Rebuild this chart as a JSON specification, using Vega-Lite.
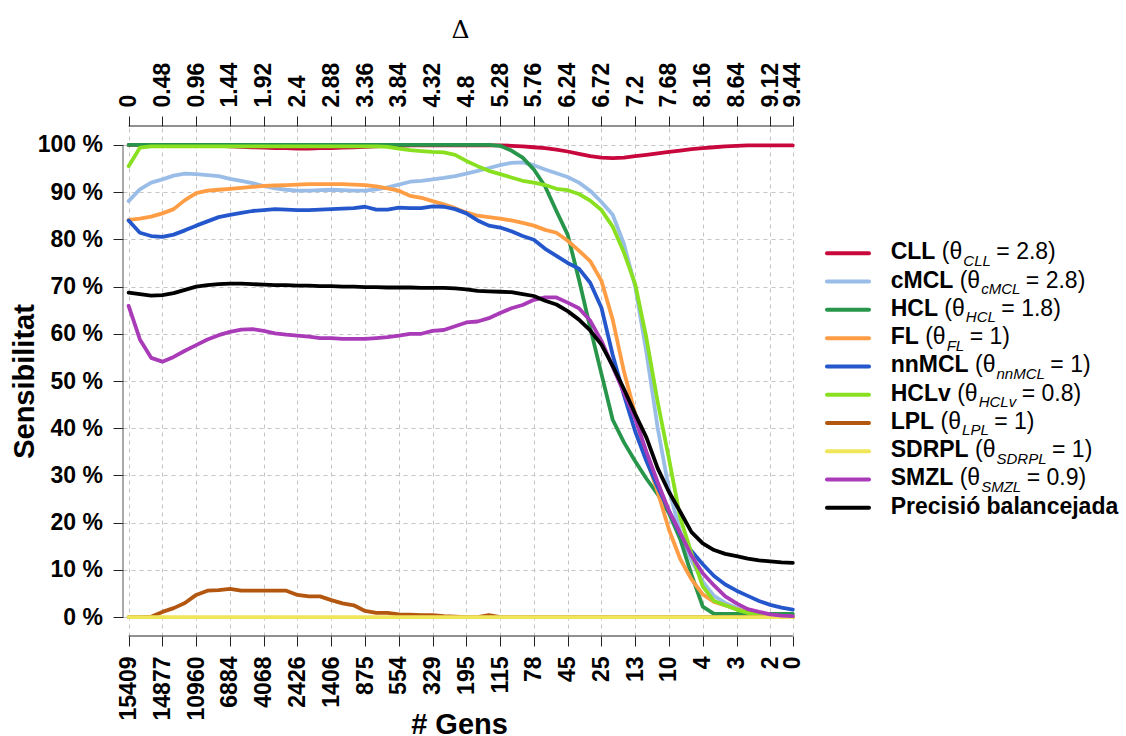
{
  "$schema": "https://vega.github.io/schema/vega-lite/v6.json",
  "width": 672,
  "height": 510,
  "autosize": {"type": "none"},
  "padding": {"left": 123, "top": 126, "right": 331, "bottom": 100},
  "background": "white",
  "config": {
    "view": {"stroke": null},
    "font": "Liberation Sans",
    "axis": {
      "labelFont": "Liberation Sans",
      "labelFontWeight": "bold",
      "labelFontSize": 23,
      "labelColor": "#000000",
      "labelOverlap": false,
      "labelFlush": false,
      "labelBound": false,
      "titleFont": "Liberation Sans",
      "titleFontWeight": "bold",
      "titleFontSize": 29,
      "titleColor": "#000000",
      "tickSize": 10,
      "tickColor": "#222222",
      "tickWidth": 1,
      "domain": false,
      "gridColor": "#c4c4c4",
      "gridDash": [4, 4],
      "gridWidth": 1
    }
  },
  "datasets": {
    "curves": [
      {"d": 0, "CLL": 100, "cMCL": 88.1, "HCL": 100, "FL": 84.1, "nnMCL": 84.0, "HCLv": 95.5, "LPL": 0, "SDRPL": 0, "SMZL": 65.9, "Precisió balancejada": 68.7},
      {"d": 0.16, "CLL": 100, "cMCL": 90.6, "HCL": 100, "FL": 84.4, "nnMCL": 81.4, "HCLv": 99.4, "LPL": 0, "SDRPL": 0, "SMZL": 58.8, "Precisió balancejada": 68.4},
      {"d": 0.32, "CLL": 100, "cMCL": 92.0, "HCL": 100, "FL": 84.8, "nnMCL": 80.7, "HCLv": 99.7, "LPL": 0.1, "SDRPL": 0, "SMZL": 54.9, "Precisió balancejada": 68.1},
      {"d": 0.48, "CLL": 100, "cMCL": 92.7, "HCL": 100, "FL": 85.5, "nnMCL": 80.5, "HCLv": 99.7, "LPL": 1.1, "SDRPL": 0, "SMZL": 54.1, "Precisió balancejada": 68.2},
      {"d": 0.64, "CLL": 100, "cMCL": 93.5, "HCL": 100, "FL": 86.4, "nnMCL": 81.0, "HCLv": 99.7, "LPL": 1.9, "SDRPL": 0, "SMZL": 55.1, "Precisió balancejada": 68.6},
      {"d": 0.8, "CLL": 99.9, "cMCL": 93.9, "HCL": 100, "FL": 88.3, "nnMCL": 81.9, "HCLv": 99.7, "LPL": 3.0, "SDRPL": 0, "SMZL": 56.4, "Precisió balancejada": 69.3},
      {"d": 0.96, "CLL": 99.9, "cMCL": 93.8, "HCL": 100, "FL": 89.8, "nnMCL": 82.9, "HCLv": 99.7, "LPL": 4.7, "SDRPL": 0, "SMZL": 57.6, "Precisió balancejada": 70.0},
      {"d": 1.12, "CLL": 99.9, "cMCL": 93.6, "HCL": 100, "FL": 90.3, "nnMCL": 83.8, "HCLv": 99.7, "LPL": 5.6, "SDRPL": 0, "SMZL": 58.8, "Precisió balancejada": 70.3},
      {"d": 1.28, "CLL": 99.8, "cMCL": 93.4, "HCL": 100, "FL": 90.5, "nnMCL": 84.7, "HCLv": 99.7, "LPL": 5.7, "SDRPL": 0, "SMZL": 59.7, "Precisió balancejada": 70.5},
      {"d": 1.44, "CLL": 99.7, "cMCL": 92.8, "HCL": 100, "FL": 90.7, "nnMCL": 85.2, "HCLv": 99.7, "LPL": 6.0, "SDRPL": 0, "SMZL": 60.4, "Precisió balancejada": 70.6},
      {"d": 1.6, "CLL": 99.6, "cMCL": 92.4, "HCL": 100, "FL": 90.9, "nnMCL": 85.6, "HCLv": 99.7, "LPL": 5.6, "SDRPL": 0, "SMZL": 60.9, "Precisió balancejada": 70.6},
      {"d": 1.76, "CLL": 99.5, "cMCL": 91.9, "HCL": 100, "FL": 91.1, "nnMCL": 86.0, "HCLv": 99.7, "LPL": 5.6, "SDRPL": 0, "SMZL": 61.0, "Precisió balancejada": 70.5},
      {"d": 1.92, "CLL": 99.4, "cMCL": 91.3, "HCL": 100, "FL": 91.3, "nnMCL": 86.2, "HCLv": 99.7, "LPL": 5.6, "SDRPL": 0, "SMZL": 60.6, "Precisió balancejada": 70.4},
      {"d": 2.08, "CLL": 99.3, "cMCL": 90.8, "HCL": 100, "FL": 91.4, "nnMCL": 86.4, "HCLv": 99.7, "LPL": 5.6, "SDRPL": 0, "SMZL": 60.1, "Precisió balancejada": 70.3},
      {"d": 2.24, "CLL": 99.3, "cMCL": 90.5, "HCL": 100, "FL": 91.5, "nnMCL": 86.3, "HCLv": 99.7, "LPL": 5.6, "SDRPL": 0, "SMZL": 59.8, "Precisió balancejada": 70.3},
      {"d": 2.4, "CLL": 99.2, "cMCL": 90.3, "HCL": 100, "FL": 91.6, "nnMCL": 86.2, "HCLv": 99.7, "LPL": 4.7, "SDRPL": 0, "SMZL": 59.6, "Precisió balancejada": 70.2},
      {"d": 2.56, "CLL": 99.2, "cMCL": 90.3, "HCL": 100, "FL": 91.7, "nnMCL": 86.2, "HCLv": 99.7, "LPL": 4.4, "SDRPL": 0, "SMZL": 59.4, "Precisió balancejada": 70.2},
      {"d": 2.72, "CLL": 99.3, "cMCL": 90.4, "HCL": 100, "FL": 91.7, "nnMCL": 86.3, "HCLv": 99.7, "LPL": 4.4, "SDRPL": 0, "SMZL": 59.1, "Precisió balancejada": 70.1},
      {"d": 2.88, "CLL": 99.3, "cMCL": 90.5, "HCL": 100, "FL": 91.7, "nnMCL": 86.4, "HCLv": 99.7, "LPL": 3.6, "SDRPL": 0, "SMZL": 59.1, "Precisió balancejada": 70.1},
      {"d": 3.04, "CLL": 99.4, "cMCL": 90.4, "HCL": 100, "FL": 91.7, "nnMCL": 86.5, "HCLv": 99.7, "LPL": 2.9, "SDRPL": 0, "SMZL": 58.9, "Precisió balancejada": 70.0},
      {"d": 3.2, "CLL": 99.5, "cMCL": 90.3, "HCL": 100, "FL": 91.6, "nnMCL": 86.6, "HCLv": 99.7, "LPL": 2.5, "SDRPL": 0, "SMZL": 58.9, "Precisió balancejada": 70.0},
      {"d": 3.36, "CLL": 99.6, "cMCL": 90.3, "HCL": 100, "FL": 91.5, "nnMCL": 86.9, "HCLv": 99.7, "LPL": 1.3, "SDRPL": 0, "SMZL": 58.9, "Precisió balancejada": 69.9},
      {"d": 3.52, "CLL": 99.7, "cMCL": 90.6, "HCL": 100, "FL": 91.2, "nnMCL": 86.3, "HCLv": 99.7, "LPL": 0.9, "SDRPL": 0, "SMZL": 59.1, "Precisió balancejada": 69.9},
      {"d": 3.68, "CLL": 99.8, "cMCL": 91.0, "HCL": 100, "FL": 90.8, "nnMCL": 86.3, "HCLv": 99.6, "LPL": 0.9, "SDRPL": 0, "SMZL": 59.3, "Precisió balancejada": 69.8},
      {"d": 3.84, "CLL": 99.8, "cMCL": 91.6, "HCL": 100, "FL": 90.3, "nnMCL": 86.7, "HCLv": 99.2, "LPL": 0.6, "SDRPL": 0, "SMZL": 59.6, "Precisió balancejada": 69.8},
      {"d": 4.0, "CLL": 99.9, "cMCL": 92.2, "HCL": 100, "FL": 89.2, "nnMCL": 86.6, "HCLv": 98.9, "LPL": 0.5, "SDRPL": 0, "SMZL": 60.0, "Precisió balancejada": 69.8},
      {"d": 4.16, "CLL": 99.9, "cMCL": 92.4, "HCL": 100, "FL": 88.8, "nnMCL": 86.6, "HCLv": 98.7, "LPL": 0.4, "SDRPL": 0, "SMZL": 60.0, "Precisió balancejada": 69.7},
      {"d": 4.32, "CLL": 99.9, "cMCL": 92.7, "HCL": 100, "FL": 88.1, "nnMCL": 87.0, "HCLv": 98.5, "LPL": 0.4, "SDRPL": 0, "SMZL": 60.6, "Precisió balancejada": 69.7},
      {"d": 4.48, "CLL": 99.9, "cMCL": 93.0, "HCL": 100, "FL": 87.4, "nnMCL": 86.9, "HCLv": 98.4, "LPL": 0.2, "SDRPL": 0, "SMZL": 60.8, "Precisió balancejada": 69.7},
      {"d": 4.64, "CLL": 99.9, "cMCL": 93.4, "HCL": 100, "FL": 86.6, "nnMCL": 86.4, "HCLv": 97.9, "LPL": 0.1, "SDRPL": 0, "SMZL": 61.6, "Precisió balancejada": 69.6},
      {"d": 4.8, "CLL": 99.9, "cMCL": 93.9, "HCL": 100, "FL": 85.7, "nnMCL": 85.5, "HCLv": 96.6, "LPL": 0, "SDRPL": 0, "SMZL": 62.4, "Precisió balancejada": 69.4},
      {"d": 4.96, "CLL": 99.9, "cMCL": 94.5, "HCL": 100, "FL": 85.0, "nnMCL": 84.0, "HCLv": 95.5, "LPL": 0, "SDRPL": 0, "SMZL": 62.6, "Precisió balancejada": 69.1},
      {"d": 5.12, "CLL": 99.9, "cMCL": 95.1, "HCL": 100, "FL": 84.7, "nnMCL": 82.9, "HCLv": 94.5, "LPL": 0.4, "SDRPL": 0, "SMZL": 63.3, "Precisió balancejada": 69.0},
      {"d": 5.28, "CLL": 99.9, "cMCL": 95.7, "HCL": 99.8, "FL": 84.4, "nnMCL": 82.5, "HCLv": 93.8, "LPL": 0, "SDRPL": 0, "SMZL": 64.4, "Precisió balancejada": 68.9},
      {"d": 5.44, "CLL": 99.8, "cMCL": 96.2, "HCL": 98.8, "FL": 84.0, "nnMCL": 81.7, "HCLv": 93.1, "LPL": 0, "SDRPL": 0, "SMZL": 65.4, "Precisió balancejada": 68.8},
      {"d": 5.6, "CLL": 99.7, "cMCL": 96.3, "HCL": 97.3, "FL": 83.5, "nnMCL": 80.7, "HCLv": 92.4, "LPL": 0, "SDRPL": 0, "SMZL": 66.1, "Precisió balancejada": 68.4},
      {"d": 5.76, "CLL": 99.5, "cMCL": 95.7, "HCL": 94.8, "FL": 82.9, "nnMCL": 79.9, "HCLv": 92.0, "LPL": 0, "SDRPL": 0, "SMZL": 67.2, "Precisió balancejada": 68.0},
      {"d": 5.92, "CLL": 99.3, "cMCL": 94.8, "HCL": 91.2, "FL": 82.0, "nnMCL": 78.0, "HCLv": 91.5, "LPL": 0, "SDRPL": 0, "SMZL": 67.7, "Precisió balancejada": 67.0},
      {"d": 6.08, "CLL": 99.0, "cMCL": 94.0, "HCL": 86.0, "FL": 81.4, "nnMCL": 76.5, "HCLv": 90.7, "LPL": 0, "SDRPL": 0, "SMZL": 67.7, "Precisió balancejada": 66.2},
      {"d": 6.24, "CLL": 98.6, "cMCL": 93.2, "HCL": 81.0, "FL": 79.7, "nnMCL": 75.0, "HCLv": 90.4, "LPL": 0, "SDRPL": 0, "SMZL": 66.6, "Precisió balancejada": 64.8},
      {"d": 6.4, "CLL": 98.1, "cMCL": 92.0, "HCL": 71.5, "FL": 77.6, "nnMCL": 73.8, "HCLv": 89.6, "LPL": 0, "SDRPL": 0, "SMZL": 65.4, "Precisió balancejada": 63.0},
      {"d": 6.56, "CLL": 97.6, "cMCL": 90.3, "HCL": 61.3, "FL": 75.4, "nnMCL": 70.8, "HCLv": 88.2, "LPL": 0, "SDRPL": 0, "SMZL": 62.8, "Precisió balancejada": 60.7},
      {"d": 6.72, "CLL": 97.3, "cMCL": 87.9, "HCL": 51.5, "FL": 71.2, "nnMCL": 65.5, "HCLv": 86.2, "LPL": 0, "SDRPL": 0, "SMZL": 58.5, "Precisió balancejada": 57.7},
      {"d": 6.88, "CLL": 97.2, "cMCL": 85.2, "HCL": 41.8, "FL": 63.0, "nnMCL": 55.5, "HCLv": 82.7, "LPL": 0, "SDRPL": 0, "SMZL": 53.0, "Precisió balancejada": 53.2},
      {"d": 7.04, "CLL": 97.3, "cMCL": 79.0, "HCL": 37.0, "FL": 52.0, "nnMCL": 47.0, "HCLv": 77.2, "LPL": 0, "SDRPL": 0, "SMZL": 47.5, "Precisió balancejada": 48.3},
      {"d": 7.2, "CLL": 97.6, "cMCL": 70.0, "HCL": 33.0, "FL": 43.0, "nnMCL": 39.3, "HCLv": 70.5, "LPL": 0, "SDRPL": 0, "SMZL": 42.0, "Precisió balancejada": 43.0},
      {"d": 7.36, "CLL": 97.9, "cMCL": 56.0, "HCL": 29.3, "FL": 33.5, "nnMCL": 33.0, "HCLv": 59.0, "LPL": 0, "SDRPL": 0, "SMZL": 35.0, "Precisió balancejada": 38.0},
      {"d": 7.52, "CLL": 98.2, "cMCL": 40.0, "HCL": 26.0, "FL": 26.5, "nnMCL": 27.5, "HCLv": 45.5, "LPL": 0, "SDRPL": 0, "SMZL": 28.5, "Precisió balancejada": 31.5},
      {"d": 7.68, "CLL": 98.5, "cMCL": 27.0, "HCL": 22.0, "FL": 18.5, "nnMCL": 22.5, "HCLv": 33.5, "LPL": 0, "SDRPL": 0, "SMZL": 22.5, "Precisió balancejada": 26.5},
      {"d": 7.84, "CLL": 98.8, "cMCL": 18.0, "HCL": 16.5, "FL": 12.3, "nnMCL": 17.5, "HCLv": 21.0, "LPL": 0, "SDRPL": 0, "SMZL": 17.8, "Precisió balancejada": 22.3},
      {"d": 8.0, "CLL": 99.1, "cMCL": 12.0, "HCL": 9.0, "FL": 8.0, "nnMCL": 14.0, "HCLv": 13.5, "LPL": 0, "SDRPL": 0, "SMZL": 13.0, "Precisió balancejada": 18.0},
      {"d": 8.16, "CLL": 99.3, "cMCL": 7.5, "HCL": 2.2, "FL": 4.8, "nnMCL": 11.2, "HCLv": 6.5, "LPL": 0, "SDRPL": 0, "SMZL": 9.3, "Precisió balancejada": 15.6},
      {"d": 8.32, "CLL": 99.5, "cMCL": 4.5, "HCL": 0.7, "FL": 3.2, "nnMCL": 8.7, "HCLv": 3.4, "LPL": 0, "SDRPL": 0, "SMZL": 6.7, "Precisió balancejada": 14.2},
      {"d": 8.48, "CLL": 99.7, "cMCL": 3.0, "HCL": 0.7, "FL": 2.5, "nnMCL": 6.9, "HCLv": 2.5, "LPL": 0, "SDRPL": 0, "SMZL": 4.4, "Precisió balancejada": 13.4},
      {"d": 8.64, "CLL": 99.8, "cMCL": 2.0, "HCL": 0.7, "FL": 1.7, "nnMCL": 5.6, "HCLv": 1.6, "LPL": 0, "SDRPL": 0, "SMZL": 2.9, "Precisió balancejada": 12.9},
      {"d": 8.8, "CLL": 99.9, "cMCL": 1.2, "HCL": 0.7, "FL": 1.0, "nnMCL": 4.5, "HCLv": 0.9, "LPL": 0, "SDRPL": 0, "SMZL": 1.7, "Precisió balancejada": 12.4},
      {"d": 8.96, "CLL": 99.9, "cMCL": 0.6, "HCL": 0.7, "FL": 0.6, "nnMCL": 3.4, "HCLv": 0.4, "LPL": 0, "SDRPL": 0, "SMZL": 1.1, "Precisió balancejada": 12.0},
      {"d": 9.12, "CLL": 99.9, "cMCL": 0.3, "HCL": 0.7, "FL": 0.4, "nnMCL": 2.6, "HCLv": 0.2, "LPL": 0, "SDRPL": 0, "SMZL": 0.6, "Precisió balancejada": 11.8},
      {"d": 9.28, "CLL": 99.9, "cMCL": 0.2, "HCL": 0.7, "FL": 0.2, "nnMCL": 2.0, "HCLv": 0.1, "LPL": 0, "SDRPL": 0, "SMZL": 0.3, "Precisió balancejada": 11.6},
      {"d": 9.44, "CLL": 99.9, "cMCL": 0.1, "HCL": 0.7, "FL": 0.1, "nnMCL": 1.6, "HCLv": 0, "LPL": 0, "SDRPL": 0, "SMZL": 0.2, "Precisió balancejada": 11.5}
    ],
    "legend": [
      {"series": "CLL", "order": 0, "sub": "CLL", "val": "2.8"},
      {"series": "cMCL", "order": 1, "sub": "cMCL", "val": "2.8"},
      {"series": "HCL", "order": 2, "sub": "HCL", "val": "1.8"},
      {"series": "FL", "order": 3, "sub": "FL", "val": "1"},
      {"series": "nnMCL", "order": 4, "sub": "nnMCL", "val": "1"},
      {"series": "HCLv", "order": 5, "sub": "HCLv", "val": "0.8"},
      {"series": "LPL", "order": 6, "sub": "LPL", "val": "1"},
      {"series": "SDRPL", "order": 7, "sub": "SDRPL", "val": "1"},
      {"series": "SMZL", "order": 8, "sub": "SMZL", "val": "0.9"},
      {"series": "Precisió balancejada", "order": 9, "sub": "", "val": ""}
    ]
  },
  "layer": [
    {
      "data": {"name": "curves"},
      "transform": [
        {"fold": ["CLL", "cMCL", "HCL", "FL", "nnMCL", "HCLv", "LPL", "SDRPL", "SMZL", "Precisió balancejada"], "as": ["series", "v"]}
      ],
      "mark": {"type": "line", "strokeWidth": 3.8, "strokeCap": "round", "strokeJoin": "round"},
      "encoding": {
        "x": {
          "field": "d",
          "type": "quantitative",
          "scale": {"domain": [-0.08, 9.471], "nice": false, "zero": false},
          "axis": {
            "orient": "top",
            "values": [0, 0.48, 0.96, 1.44, 1.92, 2.4, 2.88, 3.36, 3.84, 4.32, 4.8, 5.28, 5.76, 6.24, 6.72, 7.2, 7.68, 8.16, 8.64, 9.12, 9.44],
            "labelExpr": "'' + datum.value",
            "labelAngle": 270,
            "labelAlign": "left",
            "labelBaseline": "middle",
            "labelPadding": 9,
            "grid": true,
            "title": "Δ",
            "titleFont": "DejaVu Serif",
            "titleFontWeight": "normal",
            "titleFontSize": 25,
            "titleX": 337,
            "titleY": -89,
            "titleAlign": "center",
            "titleBaseline": "alphabetic",
            "titleAngle": 0
          }
        },
        "y": {
          "field": "v",
          "type": "quantitative",
          "scale": {"domain": [-4, 104], "nice": false, "zero": false},
          "axis": {
            "orient": "left",
            "values": [0, 10, 20, 30, 40, 50, 60, 70, 80, 90, 100],
            "labelExpr": "datum.value + ' %'",
            "labelPadding": 10.5,
            "labelBaseline": "middle",
            "grid": true,
            "title": "Sensibilitat",
            "titleAngle": 270,
            "titleX": -90,
            "titleY": 255,
            "titleAlign": "center",
            "titleBaseline": "alphabetic"
          }
        },
        "color": {
          "field": "series",
          "type": "nominal",
          "scale": {
            "domain": ["CLL", "cMCL", "HCL", "FL", "nnMCL", "HCLv", "LPL", "SDRPL", "SMZL", "Precisió balancejada"],
            "range": ["#C8083C", "#9ABDE8", "#27954A", "#FF9D45", "#2457CC", "#88E021", "#B3560F", "#F0E65A", "#A93AB8", "#000000"]
          },
          "legend": null
        }
      }
    },
    {
      "data": {"values": [{}]},
      "mark": {"type": "rule", "color": "#222222", "strokeWidth": 1},
      "encoding": {
        "x": {
          "datum": 0,
          "type": "quantitative",
          "axis": {
            "orient": "bottom",
            "values": [0, 0.48, 0.96, 1.44, 1.92, 2.4, 2.88, 3.36, 3.84, 4.32, 4.8, 5.28, 5.76, 6.24, 6.72, 7.2, 7.68, 8.16, 8.64, 9.12, 9.44],
            "labelExpr": "['15409','14877','10960','6884','4068','2426','1406','875','554','329','195','115','78','45','25','13','10','4','3','2','0'][round(datum.value / 0.48)]",
            "labelAngle": 270,
            "labelAlign": "right",
            "labelBaseline": "middle",
            "labelPadding": 10,
            "grid": false,
            "title": "# Gens",
            "titleX": 336,
            "titleY": 97.5,
            "titleAlign": "center",
            "titleBaseline": "alphabetic"
          }
        },
        "x2": {"datum": 9.44},
        "y": {"datum": -4, "type": "quantitative"}
      }
    },
    {
      "data": {"values": [{}]},
      "mark": {"type": "rule", "color": "#222222", "strokeWidth": 1},
      "encoding": {
        "x": {"datum": 0, "type": "quantitative", "axis": null},
        "x2": {"datum": 9.44},
        "y": {"datum": 104, "type": "quantitative"}
      }
    },
    {
      "data": {"values": [{}]},
      "mark": {"type": "rule", "color": "#555555", "strokeWidth": 1},
      "encoding": {
        "x": {"datum": -0.08, "type": "quantitative", "axis": null},
        "y": {"datum": 0, "type": "quantitative"},
        "y2": {"datum": 100}
      }
    },
    {
      "data": {"name": "legend"},
      "transform": [
        {"calculate": "23 / 1000 * (722 * (length(datum.series) - length(replace(datum.series, regexp('[CDHR]', 'g'), ''))) + 833 * (length(datum.series) - length(replace(datum.series, regexp('M', 'g'), ''))) + 611 * (length(datum.series) - length(replace(datum.series, regexp('[LFZn]', 'g'), ''))) + 667 * (length(datum.series) - length(replace(datum.series, regexp('[PS]', 'g'), ''))) + 556 * (length(datum.series) - length(replace(datum.series, regexp('[cv]', 'g'), ''))))", "as": "nameWidth"},
        {"calculate": "15 / 1000 * (722 * (length(datum.sub) - length(replace(datum.sub, regexp('[CDHR]', 'g'), ''))) + 833 * (length(datum.sub) - length(replace(datum.sub, regexp('M', 'g'), ''))) + 611 * (length(datum.sub) - length(replace(datum.sub, regexp('[FZ]', 'g'), ''))) + 667 * (length(datum.sub) - length(replace(datum.sub, regexp('[PS]', 'g'), ''))) + 556 * (length(datum.sub) - length(replace(datum.sub, regexp('[Ln]', 'g'), ''))) + 500 * (length(datum.sub) - length(replace(datum.sub, regexp('[cv]', 'g'), ''))))", "as": "subWidth"},
        {"calculate": "77.04 - 5.987 * datum.order", "as": "rowY"},
        {"calculate": "10.831", "as": "xName"},
        {"calculate": "datum.xName + (datum.nameWidth + 6.4) / 70.36", "as": "xParen"},
        {"calculate": "datum.xParen + 21.5 / 70.36", "as": "xSub"},
        {"calculate": "datum.xSub + (datum.subWidth + 5.5) / 70.36", "as": "xTail"},
        {"calculate": "'= ' + datum.val + ')'", "as": "tail"}
      ],
      "encoding": {
        "y": {"field": "rowY", "type": "quantitative"}
      },
      "layer": [
        {
          "mark": {"type": "rule", "strokeWidth": 4, "strokeCap": "round"},
          "encoding": {
            "x": {"datum": 9.9255, "type": "quantitative", "axis": null},
            "x2": {"datum": 10.5224},
            "color": {
              "field": "series",
              "type": "nominal",
              "scale": {
                "domain": ["CLL", "cMCL", "HCL", "FL", "nnMCL", "HCLv", "LPL", "SDRPL", "SMZL", "Precisió balancejada"],
                "range": ["#C8083C", "#9ABDE8", "#27954A", "#FF9D45", "#2457CC", "#88E021", "#B3560F", "#F0E65A", "#A93AB8", "#000000"]
              },
              "legend": null
            }
          }
        },
        {
          "mark": {"type": "text", "align": "left", "baseline": "alphabetic", "fontWeight": "bold", "fontSize": 23, "dy": 6, "color": "#000000"},
          "encoding": {
            "x": {"field": "xName", "type": "quantitative", "axis": null},
            "text": {"field": "series"}
          }
        },
        {
          "transform": [{"filter": "datum.sub != ''"}],
          "mark": {"type": "text", "align": "left", "baseline": "alphabetic", "fontSize": 23, "dy": 6, "color": "#000000"},
          "encoding": {
            "x": {"field": "xParen", "type": "quantitative", "axis": null},
            "text": {"value": "(θ"}
          }
        },
        {
          "transform": [{"filter": "datum.sub != ''"}],
          "mark": {"type": "text", "align": "left", "baseline": "alphabetic", "fontSize": 15, "fontStyle": "italic", "dy": 12.5, "color": "#000000"},
          "encoding": {
            "x": {"field": "xSub", "type": "quantitative", "axis": null},
            "text": {"field": "sub"}
          }
        },
        {
          "transform": [{"filter": "datum.sub != ''"}],
          "mark": {"type": "text", "align": "left", "baseline": "alphabetic", "fontSize": 23, "dy": 6, "color": "#000000"},
          "encoding": {
            "x": {"field": "xTail", "type": "quantitative", "axis": null},
            "text": {"field": "tail"}
          }
        }
      ]
    }
  ]
}
